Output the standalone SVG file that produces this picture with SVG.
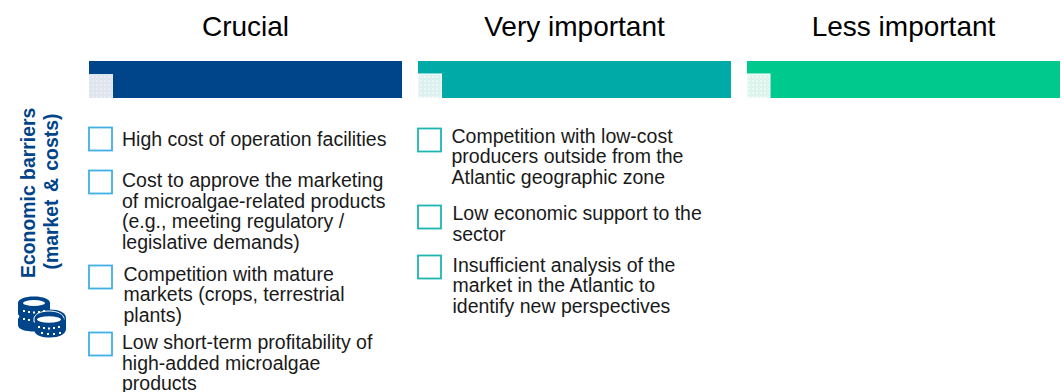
<svg xmlns="http://www.w3.org/2000/svg" width="1064" height="392" viewBox="0 0 1064 392">
<style>
text{font-family:"Liberation Sans",Arial,sans-serif}
.h{font-size:28px;fill:#000;text-anchor:middle}
.t{font-size:19.5px;fill:#1a1a1a}
.s{font-size:19.4px;font-weight:bold;fill:#004489}
.b{fill:#fff;stroke-width:1.8}
.b1{stroke:#3fb0e4}
.b2{stroke:#1db5b0}
</style>
<defs>
<pattern id="p1" width="4" height="4" patternUnits="userSpaceOnUse"><rect width="4" height="4" fill="#dfe5ee"/><rect width="2" height="2" fill="#e9edf3"/></pattern>
<pattern id="p2" width="4" height="4" patternUnits="userSpaceOnUse"><rect width="4" height="4" fill="#dcf1ef"/><rect width="2" height="2" fill="#eaf7f6"/></pattern>
<pattern id="p3" width="4" height="4" patternUnits="userSpaceOnUse"><rect width="4" height="4" fill="#dcf5ec"/><rect width="2" height="2" fill="#ecfaf5"/></pattern>
</defs>
<g id="head-crucial">
<text class="h" x="245.500" y="36">Crucial</text>
<rect x="89" y="61" width="313" height="37" fill="#004489"/>
<rect x="89" y="74" width="24" height="24" fill="url(#p1)"/>
</g>
<g id="head-very">
<text class="h" x="574.500" y="36">Very important</text>
<rect x="418" y="61" width="313" height="37" fill="#00aaa6"/>
<rect x="418" y="74" width="23.500" height="24" fill="url(#p2)" stroke="#fff"/>
</g>
<g id="head-less">
<text class="h" x="903.500" y="36">Less important</text>
<rect x="747" y="61" width="313" height="37" fill="#00c98d"/>
<rect x="747" y="74" width="23" height="24" fill="url(#p3)" stroke="#fff"/>
</g>
<g id="side-label">
<text class="s" transform="translate(35,278) rotate(-90)">Economic barriers</text>
<text class="s" style="word-spacing:2px" transform="translate(58,269.500) rotate(-90)">(market &amp; costs)</text>
</g>
<g id="coins" fill="#004489">
<path d="M18 303c0-4 7-6.500 16-6.500s16 2.500 16 6.500v6.500c9 0 16 3 16 8.500v11c0 5-7 8.500-16 8.500-8 0-14-2-15.500-6-9 0-16.500-2-16.500-6.500v-6l1.500-2.500-1.500-2.500z"/>
<ellipse cx="34" cy="303" rx="11" ry="3" fill="#fff"/>
<path d="M34 319c0-5 7-8 15-8s15 3 15 8v3H34z" stroke="#fff" stroke-width="1"/>
<path d="M35 321c0-4 6-7 14-7s16 3 16 7v2H35z"/>
<ellipse cx="49" cy="319.500" rx="12" ry="3.200" fill="#fff"/>
<path d="M23 310h2v2h-2zM28 311h2v2h-2zM33 311.500h2v2h-2zM38 311h2v2h-2zM43 310h2v2h-2zM23 318h2v2h-2zM28 319h2v2h-2zM38 326h2v2h-2zM43 327h2v2h-2zM48 327.500h2v2h-2zM53 327h2v2h-2zM58 326h2v2h-2zM41 332h2v2h-2zM47 333h2v2h-2zM53 333h2v2h-2zM59 332h2v2h-2z" fill="#fff"/>
</g>
<g id="crucial-1"><rect class="b b1" x="89" y="127.500" width="23" height="23"/><text class="t" x="122" y="145.500">High cost of operation facilities</text></g>
<g id="crucial-2"><rect class="b b1" x="89" y="170.500" width="23" height="23"/><text class="t"><tspan x="122" y="186.500">Cost to approve the marketing</tspan><tspan x="122" y="207.500">of microalgae-related products</tspan><tspan x="122" y="228">(e.g., meeting regulatory /</tspan><tspan x="122" y="248.500">legislative demands)</tspan></text></g>
<g id="crucial-3"><rect class="b b1" x="89" y="265.500" width="23" height="23"/><text class="t"><tspan x="123.500" y="280.500">Competition with mature</tspan><tspan x="123.500" y="300.500">markets (crops, terrestrial</tspan><tspan x="123.500" y="321.500">plants)</tspan></text></g>
<g id="crucial-4"><rect class="b b1" x="89" y="332.500" width="23" height="23"/><text class="t"><tspan x="122" y="348.500">Low short-term profitability of</tspan><tspan x="122" y="369.500">high-added microalgae</tspan><tspan x="122" y="389.500">products</tspan></text></g>
<g id="very-1"><rect class="b b2" x="418" y="128.500" width="23" height="23"/><text class="t"><tspan x="451.500" y="142.500">Competition with low-cost</tspan><tspan x="451.500" y="162.500">producers outside from the</tspan><tspan x="451.500" y="183.500">Atlantic geographic zone</tspan></text></g>
<g id="very-2"><rect class="b b2" x="418" y="205.500" width="23" height="23"/><text class="t"><tspan x="452.500" y="219.500">Low economic support to the</tspan><tspan x="452.500" y="240.500">sector</tspan></text></g>
<g id="very-3"><rect class="b b2" x="418" y="255.500" width="23" height="23"/><text class="t"><tspan x="452.500" y="271.500">Insufficient analysis of the</tspan><tspan x="452.500" y="291.500">market in the Atlantic to</tspan><tspan x="452.500" y="312.500">identify new perspectives</tspan></text></g>
</svg>
